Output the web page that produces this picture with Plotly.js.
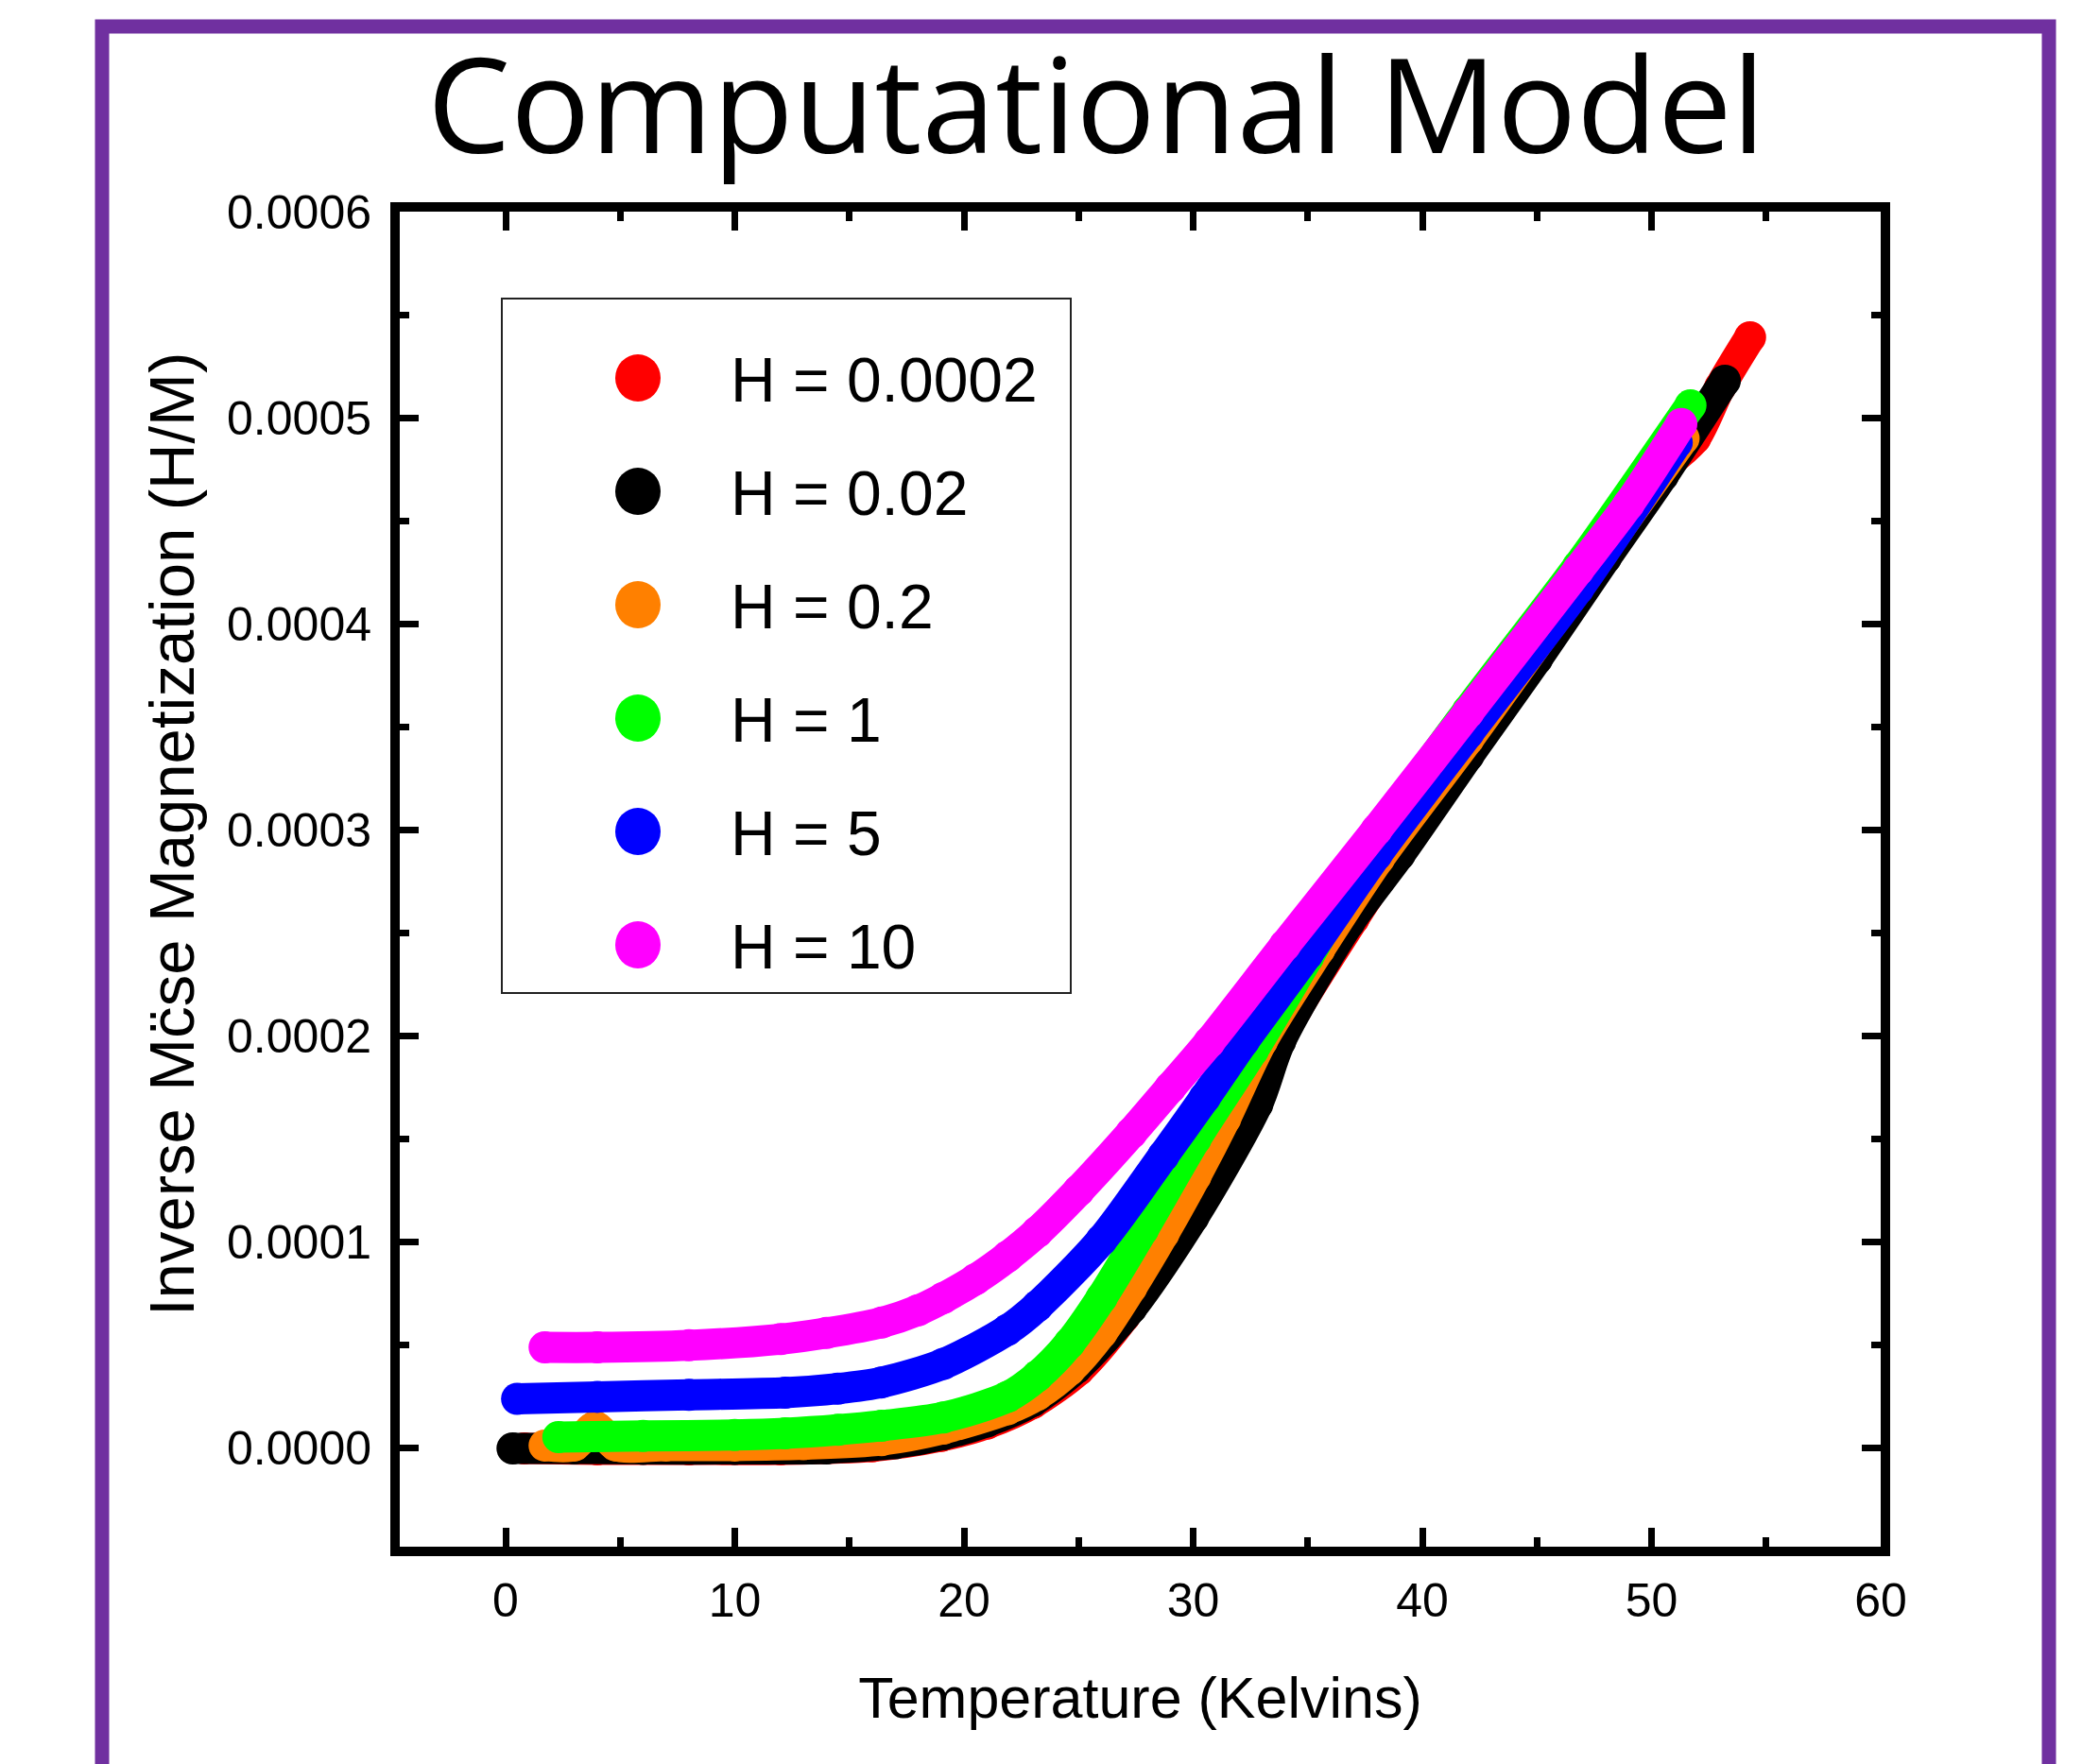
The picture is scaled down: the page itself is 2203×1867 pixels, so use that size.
<!DOCTYPE html>
<html><head><meta charset="utf-8">
<script src="https://cdn.plot.ly/plotly-3.0.1.min.js"></script>
<style>html,body{margin:0;padding:0;background:#fff;} #chart{width:2203px;height:1867px;}</style>
</head><body><div id="chart"></div>
<script>
// ---------------- data ----------------
const seriesNames  = ['H = 0.0002', 'H = 0.02', 'H = 0.2', 'H = 1', 'H = 5', 'H = 10'];
const seriesColors = ['#ff0000', '#000000', '#ff8000', '#00ff00', '#0000ff', '#ff00ff'];

const tempH0002 = [0.8, 4, 8, 12, 16, 19, 21, 23, 25, 27, 29, 31, 33, 34.5, 37, 39, 42, 45, 48, 50.5, 51.9, 53, 54.3];
const invH0002  = [0, -0.5e-6, -0.5e-6, -0.5e-6, 1e-6, 6e-6, 1.2e-5, 2.2e-5, 3.8e-5, 6.4e-5, 1.0e-4, 1.4e-4, 1.85e-4, 2.13e-4, 2.57e-4, 2.91e-4, 3.39e-4, 3.86e-4, 4.35e-4, 4.75e-4, 4.9e-4, 5.15e-4, 5.39e-4];

const tempH002 = [0.3, 3, 6, 10, 14, 17, 19.1, 21, 23, 24.9, 27.3, 30, 32.8, 33.8, 36.8, 39, 42, 45, 48, 50.5, 53.2];
const invH002  = [0, 0, -0.3e-6, -0.3e-6, 0, 2.5e-6, 6.8e-6, 1.3e-5, 2.3e-5, 3.9e-5, 6.8e-5, 1.12e-4, 1.67e-4, 1.975e-4, 2.55e-4, 2.88e-4, 3.36e-4, 3.83e-4, 4.32e-4, 4.72e-4, 5.18e-4];

const tempH02 = [1.7, 3, 3.9, 4.8, 7, 10, 13, 16.4, 19.1, 21.9, 23.2, 24.6, 26, 27.3, 28.7, 30.1, 31.4, 33, 35.5, 38.1, 42, 46, 51.4];
const invH02  = [1.4e-6, 1.4e-6, 1.05e-5, 1.4e-6, 1.4e-6, 1.4e-6, 2e-6, 4e-6, 9.6e-6, 1.9e-5, 2.6e-5, 3.8e-5, 5.6e-5, 7.8e-5, 1.04e-4, 1.32e-4, 1.6e-4, 1.975e-4, 2.42e-4, 2.86e-4, 3.44e-4, 4.06e-4, 4.9e-4];

const tempH1 = [2.3, 6, 10, 12.2, 14.5, 16.4, 19.1, 21.9, 23.2, 24.6, 26, 27.8, 30.1, 32.6, 35, 38, 42, 46.8, 51.7];
const invH1  = [5.5e-6, 6e-6, 6.5e-6, 7.3e-6, 9e-6, 1.1e-5, 1.5e-5, 2.5e-5, 3.5e-5, 5.1e-5, 7.3e-5, 1.06e-4, 1.5e-4, 1.93e-4, 2.38e-4, 2.96e-4, 3.58e-4, 4.28e-4, 5.06e-4];

const tempH5 = [0.5, 4, 8, 12.2, 14.5, 16.4, 19.1, 21.9, 23.2, 26, 28.7, 30.5, 32.2, 35, 38, 42, 46.8, 51.1];
const invH5  = [2.4e-5, 2.5e-5, 2.6e-5, 2.7e-5, 2.9e-5, 3.2e-5, 4.1e-5, 5.75e-5, 6.9e-5, 1.01e-4, 1.42e-4, 1.7e-4, 1.975e-4, 2.4e-4, 2.88e-4, 3.47e-4, 4.17e-4, 4.88e-4];

const tempH10 = [1.7, 4, 8, 12, 14, 16.4, 18, 19.1, 20.5, 21.9, 23.2, 25, 27.3, 29, 30.7, 34, 38, 42, 46.8, 49, 51.3];
const invH10  = [4.9e-5, 4.9e-5, 5.0e-5, 5.3e-5, 5.6e-5, 6.1e-5, 6.7e-5, 7.3e-5, 8.2e-5, 9.3e-5, 1.05e-4, 1.25e-4, 1.53e-4, 1.75e-4, 1.97e-4, 2.44e-4, 3.0e-4, 3.57e-4, 4.26e-4, 4.58e-4, 4.97e-4];

const xTickVals = [0, 10, 20, 30, 40, 50, 60];
const yTickVals = [0, 0.0001, 0.0002, 0.0003, 0.0004, 0.0005, 0.0006];
const yTickText = ['0.0000', '0.0001', '0.0002', '0.0003', '0.0004', '0.0005', '0.0006'];

const chartTitle = 'Computational Model';
const xTitle = 'Temperature (Kelvins)';
const yTitle = 'Inverse Mc\u0308se Magnetization (H/M)';

// ---------------- layout geometry (pixels) ----------------
const W = 2203, H = 1867;
const L = 423, R = 1990, T = 224, B = 1637;
const px = v => (v - L) / (R - L);
const py = v => (B - v) / (B - T);
const FONT = 'Liberation Sans, Arial, sans-serif';

const xs = [tempH0002, tempH002, tempH02, tempH1, tempH5, tempH10];
const ys = [invH0002, invH002, invH02, invH1, invH5, invH10];

const traces = seriesNames.map((name, i) => ({
  type: 'scatter', mode: 'lines+markers', name: name,
  x: xs[i], y: ys[i],
  line: {color: seriesColors[i], width: 33, shape: 'spline', smoothing: 0.8},
  marker: {color: seriesColors[i], size: 34, line: {width: 0}},
  showlegend: false, cliponaxis: true
}));

// manual legend (large markers)
const legBox = {x0: 531, y0: 316, x1: 1133, y1: 1051};
const legRow0 = 400, legRowStep = 120, legMarkX = 675, legTextX = 771;
const shapes = [
  // purple frame
  {type: 'rect', xref: 'paper', yref: 'paper', x0: px(108), x1: px(2168), y0: py(2000), y1: py(28),
   line: {color: '#7030a0', width: 15}, fillcolor: 'rgba(0,0,0,0)', layer: 'below'},
  // legend box
  {type: 'rect', xref: 'paper', yref: 'paper', x0: px(legBox.x0), x1: px(legBox.x1), y0: py(legBox.y1), y1: py(legBox.y0),
   line: {color: '#222', width: 2}, fillcolor: 'rgba(255,255,255,0)'}
];
const annotations = [];
seriesNames.forEach((name, i) => {
  const cy = legRow0 + i * legRowStep;
  shapes.push({type: 'circle', xref: 'paper', yref: 'paper',
    x0: px(legMarkX - 24), x1: px(legMarkX + 24), y0: py(cy + 25), y1: py(cy - 25),
    fillcolor: seriesColors[i], line: {width: 0}});
  annotations.push({xref: 'paper', yref: 'paper', x: px(legTextX), y: py(cy + 2), xanchor: 'left', yanchor: 'middle',
    text: name, showarrow: false, font: {family: FONT, size: 66, color: '#000'}});
});
annotations.push({xref: 'paper', yref: 'paper', x: px(181), y: py(883), xanchor: 'center', yanchor: 'middle',
  textangle: -90, text: yTitle, showarrow: false, font: {family: FONT, size: 67, color: '#000'}});

const axisCommon = {
  showline: true, linecolor: '#000', linewidth: 10, mirror: 'allticks',
  ticks: 'inside', ticklen: 20, tickwidth: 7, tickcolor: '#000',
  showgrid: false, zeroline: false,
  tickfont: {family: FONT, size: 50, color: '#000'}
};

const layout = {
  width: W, height: H,
  margin: {l: L, r: W - R, t: T, b: H - B, pad: 0},
  paper_bgcolor: '#fff', plot_bgcolor: '#fff',
  showlegend: false,
  title: {text: chartTitle, font: {family: 'Open Sans, sans-serif', size: 140, color: '#000'},
          xref: 'container', yref: 'container', x: 1160 / W, xanchor: 'center', y: 1 - 113 / H, yanchor: 'middle'},
  xaxis: Object.assign({}, axisCommon, {
    range: [-4.62, 60], tickvals: xTickVals, ticktext: xTickVals.map(String),
    ticklabelstandoff: 4,
    minor: {dtick: 5, tick0: 0, ticks: 'inside', ticklen: 10, tickwidth: 7, tickcolor: '#000', showgrid: false},
    title: {text: xTitle, font: {family: FONT, size: 61, color: '#000'}, standoff: 58}
  }),
  yaxis: Object.assign({}, axisCommon, {
    range: [-0.0000477, 0.0006], tickvals: yTickVals, ticktext: yTickText,
    ticklabelstandoff: 10,
    minor: {dtick: 0.00005, tick0: 0, ticks: 'inside', ticklen: 10, tickwidth: 7, tickcolor: '#000', showgrid: false}
  }),
  shapes: shapes,
  annotations: annotations
};

Plotly.newPlot('chart', traces, layout, {staticPlot: true, displayModeBar: false});
</script>
</body></html>
